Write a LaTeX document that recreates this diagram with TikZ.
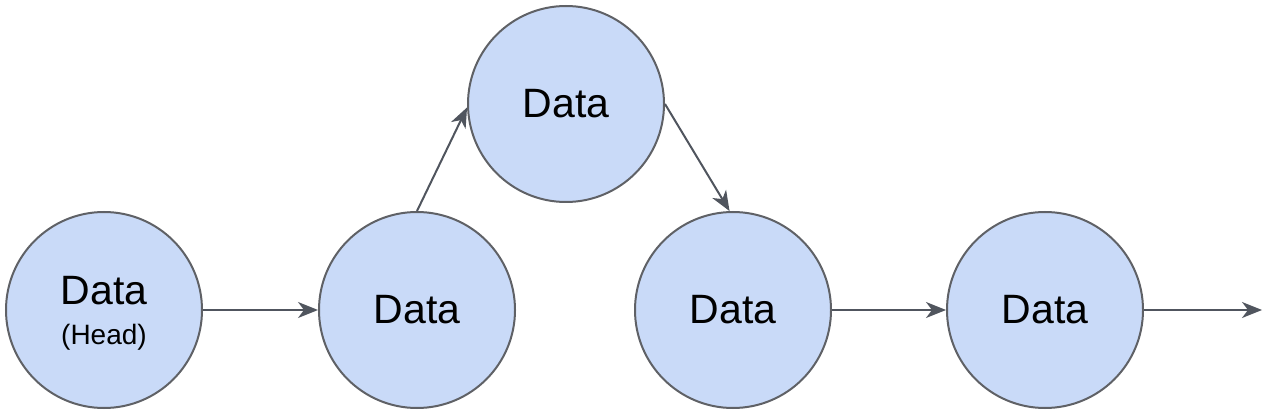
\documentclass[tikz,border=0pt]{standalone}
\usepackage{fontspec}
\setmainfont{Liberation Sans}
\usetikzlibrary{arrows.meta}
\definecolor{nodefill}{HTML}{C9DAF8}
\definecolor{nodeline}{HTML}{5F6166}
\definecolor{arrowc}{HTML}{50555E}
\tikzset{
  datanode/.style={circle, draw=nodeline, fill=nodefill, line width=2pt, minimum size=196pt, inner sep=0pt, font=\fontsize{41}{41}\selectfont, align=center},
  link/.style={draw=arrowc, line width=2pt, -{Stealth[length=20pt,width=16pt,inset=6pt]}}
}
\begin{document}
\begin{tikzpicture}[x=1pt,y=-1pt]
\useasboundingbox (0,0) rectangle (1266,414);
\node[datanode] (n1) at (104,310) {\raisebox{-6pt}[\height][\depth]{\begin{tabular}{@{}c@{}}Data\\[-1pt]{\fontsize{28}{28}\selectfont (Head)}\end{tabular}}};
\node[datanode] (n2) at (417,310) {Data};
\node[datanode] (n3) at (566,104) {Data};
\node[datanode] (n4) at (733,310) {Data};
\node[datanode] (n5) at (1045,310) {Data};
\coordinate (end) at (1262,310);
\draw[link] (n1.east) -- (n2.west);
\draw[link] (n2.north) -- (n3.182);
\draw[link] (n3.east) -- (n4.92);
\draw[link] (n4.east) -- (n5.west);
\draw[link] (n5.east) -- (end);
\end{tikzpicture}
\end{document}
